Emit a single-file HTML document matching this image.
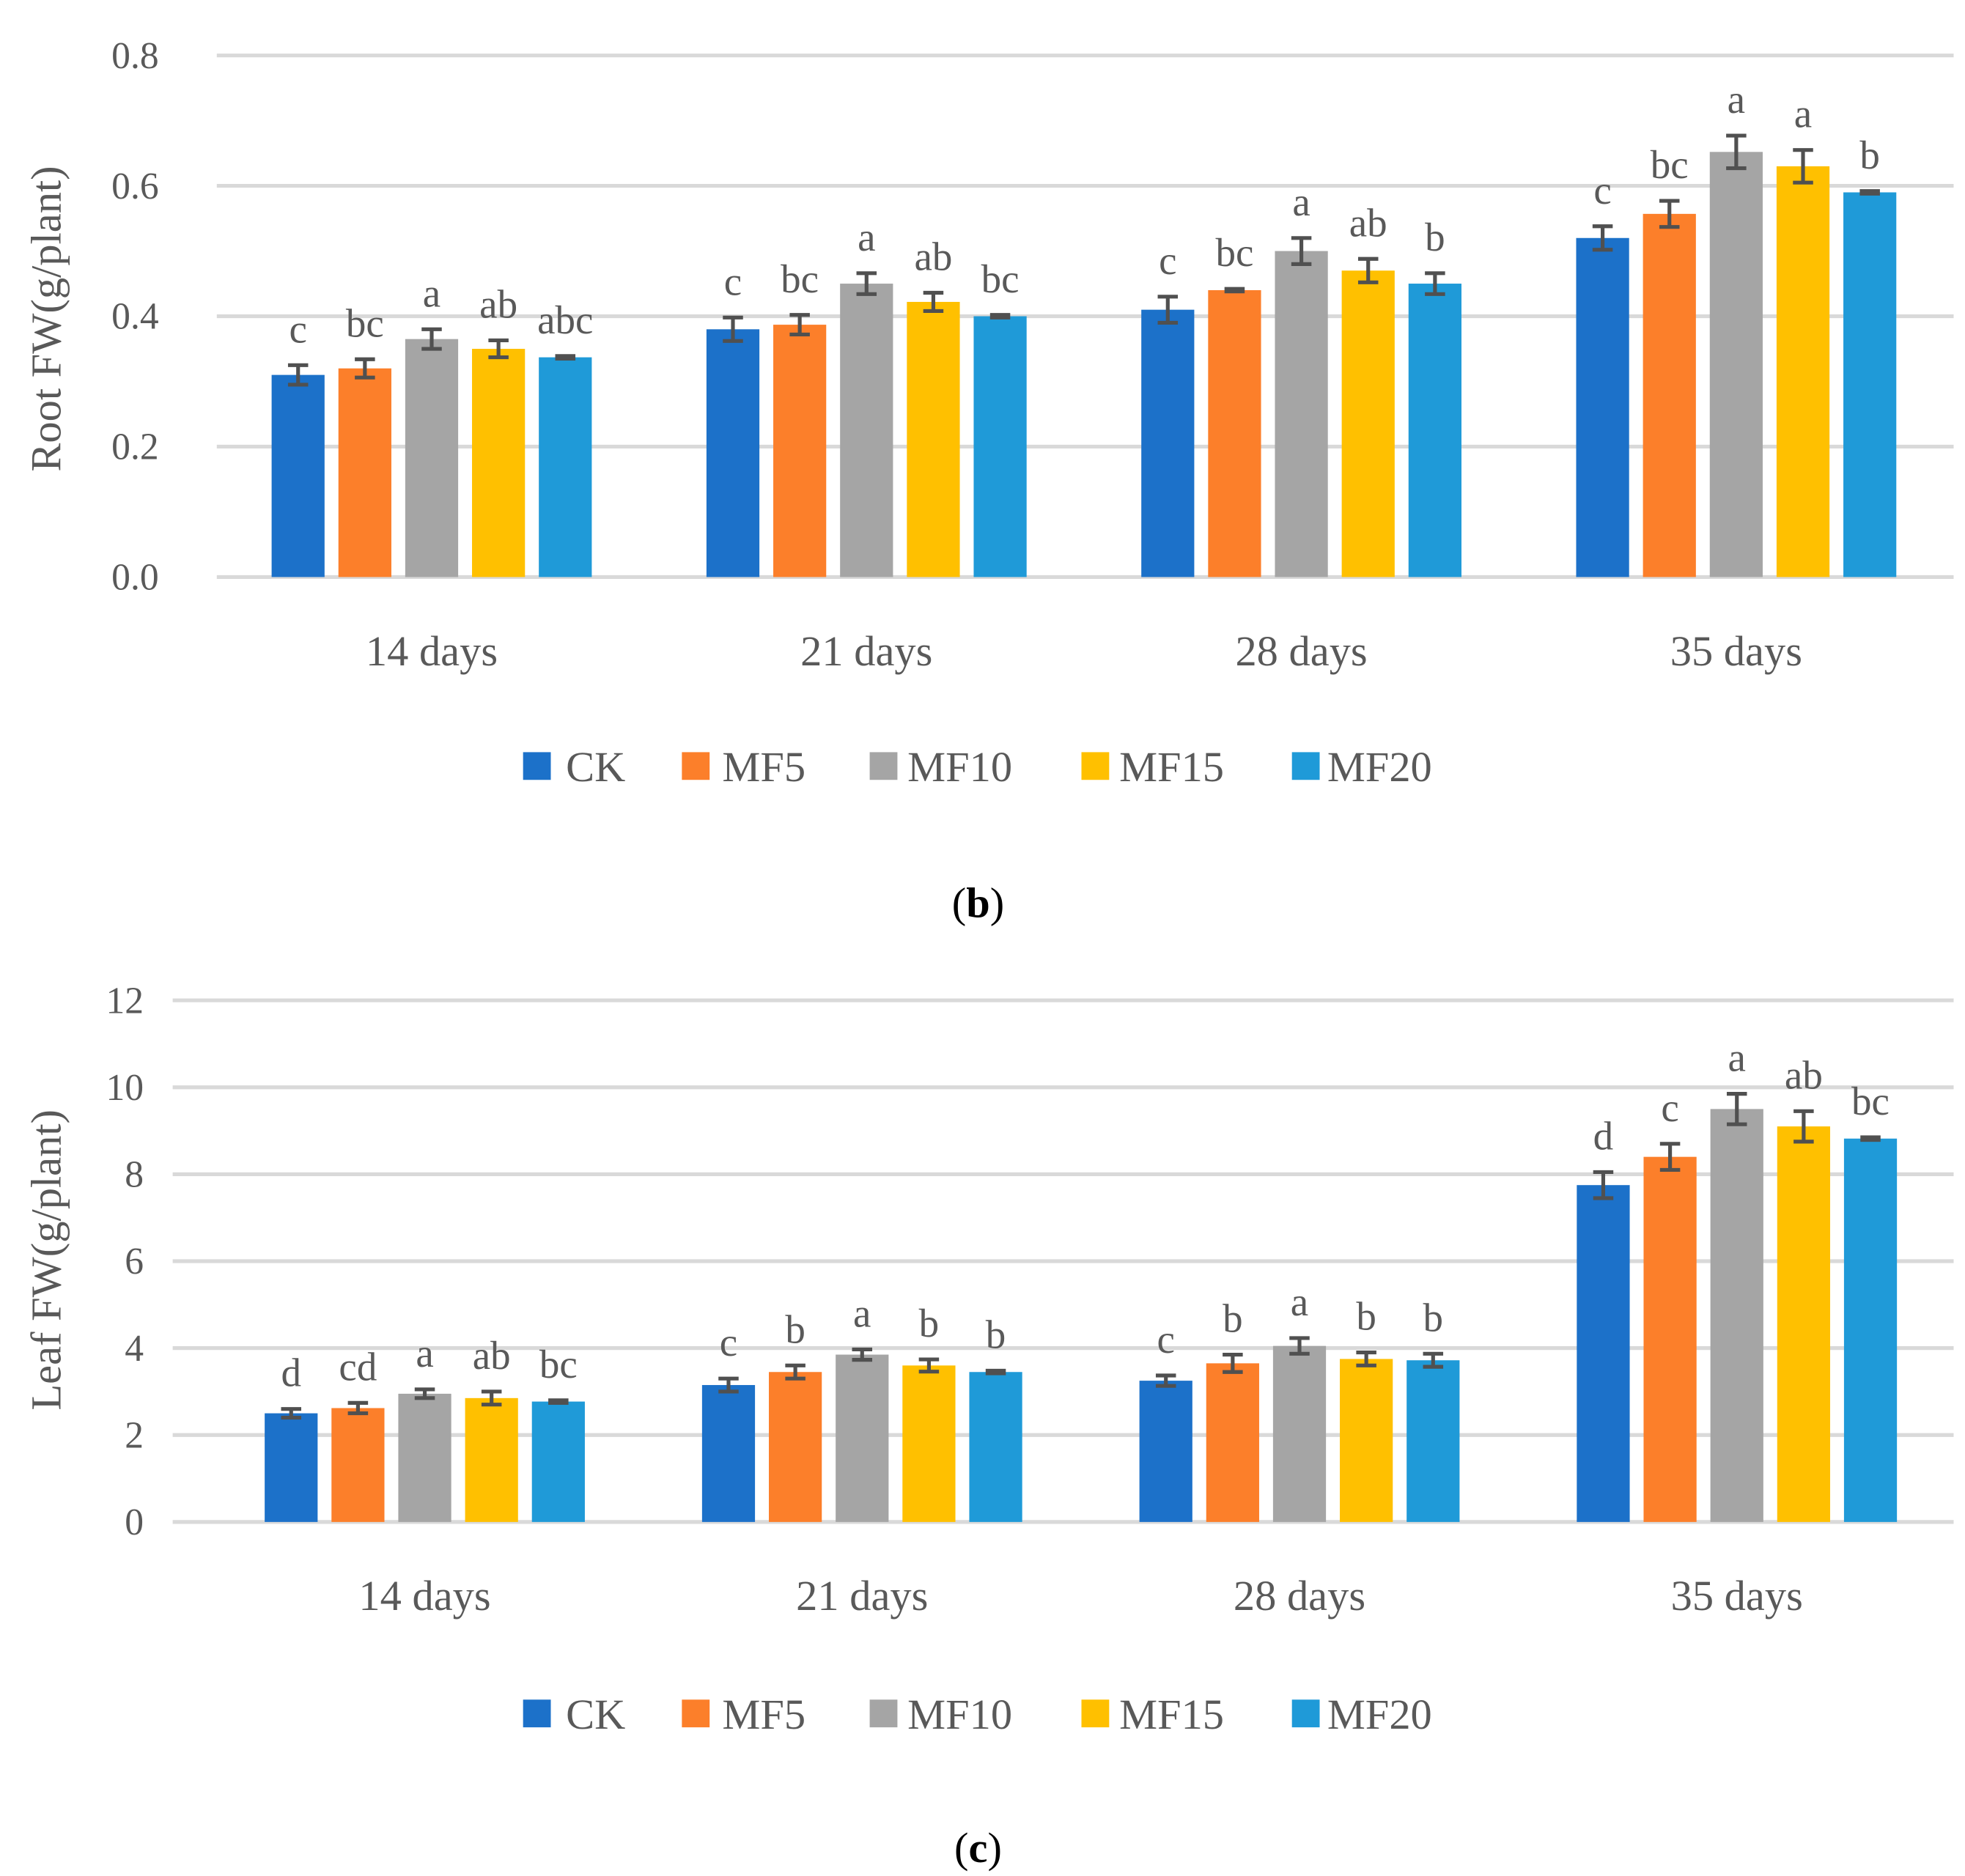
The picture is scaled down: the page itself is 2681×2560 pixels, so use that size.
<!DOCTYPE html>
<html><head><meta charset="utf-8"><style>
html,body{margin:0;padding:0;background:#fff;}
svg{display:block;}
text{font-family:"Liberation Serif",serif;fill:#595959;}
</style></head><body>
<svg id="chart" width="2681" height="2560" viewBox="0 0 1559 1489" preserveAspectRatio="none" xmlns="http://www.w3.org/2000/svg"></svg>
<script>
const categories = ["14 days","21 days","28 days","35 days"];
const seriesNames = ["CK","MF5","MF10","MF15","MF20"];
const colors = ["#1c71c9","#fc7f2a","#a5a5a5","#ffc000","#1f9ad8"];
const rootValues = [[0.31,0.38,0.41,0.52],[0.32,0.387,0.44,0.557],[0.365,0.45,0.50,0.652],[0.35,0.422,0.47,0.63],[0.337,0.40,0.45,0.59]];
const rootErrors = [[0.015,0.018,0.02,0.018],[0.014,0.015,0.002,0.02],[0.015,0.016,0.02,0.025],[0.013,0.014,0.018,0.025],[0.002,0.002,0.016,0.002]];
const rootLetters = [["c","c","c","c"],["bc","bc","bc","bc"],["a","a","a","a"],["ab","ab","ab","a"],["abc","bc","b","b"]];
const rootTicks = ["0.0","0.2","0.4","0.6","0.8"];
const leafValues = [[2.5,3.15,3.25,7.75],[2.62,3.45,3.65,8.4],[2.95,3.85,4.05,9.5],[2.85,3.6,3.75,9.1],[2.77,3.45,3.72,8.82]];
const leafErrors = [[0.1,0.15,0.12,0.3],[0.12,0.15,0.2,0.3],[0.1,0.12,0.18,0.35],[0.15,0.14,0.15,0.35],[0.03,0.03,0.15,0.03]];
const leafLetters = [["d","c","c","d"],["cd","b","b","c"],["a","a","a","a"],["ab","b","b","ab"],["bc","b","b","bc"]];
const leafTicks = ["0","2","4","6","8","10","12"];

const svg = document.getElementById('chart');
const NS = "http://www.w3.org/2000/svg";
function mk(tag, attrs, parent){const e=document.createElementNS(NS,tag);for(const k in attrs)e.setAttribute(k,attrs[k]);(parent||svg).appendChild(e);return e;}

function drawChart(cfg){
  const g = mk('g',{});
  
  
  const y = v => cfg.y0 - v/cfg.max*(cfg.y0-cfg.yTop);
  cfg.ticks.forEach((t,i)=>{
    const v = i*cfg.max/(cfg.ticks.length-1);
    const l = mk('line',{x1:cfg.gx0,x2:1550,y1:y(v),y2:y(v),stroke:'#d9d9d9','stroke-width':3},g);
    
    
    const tx = mk('text',{x:cfg.tickX,y:y(v)+10,'text-anchor':'end','font-size':30},g);
    tx.textContent = t;
    
    
  });
  const at = mk('text',{x:0,y:0,'text-anchor':'middle','font-size':34,transform:`translate(48,${cfg.titleY}) rotate(-90)`},g);
  at.textContent = cfg.title;
  
  
  const groupW = (cfg.x1-cfg.x0)/categories.length;
  const step = 53, bw = 42;
  categories.forEach((c,ci)=>{
    const cx = cfg.x0 + groupW*(ci+0.5);
    const lab = mk('text',{x:cx,y:cfg.y0+70,'text-anchor':'middle','font-size':34},g);
    lab.textContent = c;
    
    
    seriesNames.forEach((s,si)=>{
      const bx = cx + (si-2)*step;
      const v = cfg.values[si][ci], e = cfg.errors[si][ci];
      const r = mk('rect',{x:bx-bw/2,y:y(v),width:bw,height:cfg.y0-y(v),fill:colors[si]},g);
      
      
      const eb = mk('path',{d:`M${bx},${y(v+e)}V${y(v-e)}M${bx-8},${y(v+e)}H${bx+8}M${bx-8},${y(v-e)}H${bx+8}`,stroke:'#505050','stroke-width':3,fill:'none'},g);
      
      
      const lt = mk('text',{x:bx,y:y(v+e)-18,'text-anchor':'middle','font-size':32},g);
      lt.textContent = cfg.letters[si][ci];
      
      
    });
  });
  const lx = [415,541,690,858,1025], tx = [449,573,720,888,1053];
  seriesNames.forEach((s,si)=>{
    const sq = mk('rect',{x:lx[si],y:cfg.legY-11,width:22,height:22,fill:colors[si]},g);
    
    
    const t = mk('text',{x:tx[si],y:cfg.legY+12,'font-size':34},g);
    t.textContent = s;
    
    
  });
  const cap = mk('text',{x:776,y:cfg.capY,'text-anchor':'middle','font-size':34,style:'fill:#000'},g);
  cap.innerHTML = '(<tspan font-weight="bold">'+cfg.cap+'</tspan>)';
  
  
}
drawChart({name:'root-fw-chart',gx0:172,x0:170,x1:1550,y0:458,yTop:44,max:0.8,ticks:rootTicks,tickX:126,title:'Root FW(g/plant)',titleY:253,values:rootValues,errors:rootErrors,letters:rootLetters,legY:608,capY:728,cap:'b'});
drawChart({name:'leaf-fw-chart',gx0:137,x0:163.5,x1:1551.5,y0:1208,yTop:794,max:12,ticks:leafTicks,tickX:114,title:'Leaf FW(g/plant)',titleY:1000,values:leafValues,errors:leafErrors,letters:leafLetters,legY:1360,capY:1478,cap:'c'});
</script>
</body></html>
